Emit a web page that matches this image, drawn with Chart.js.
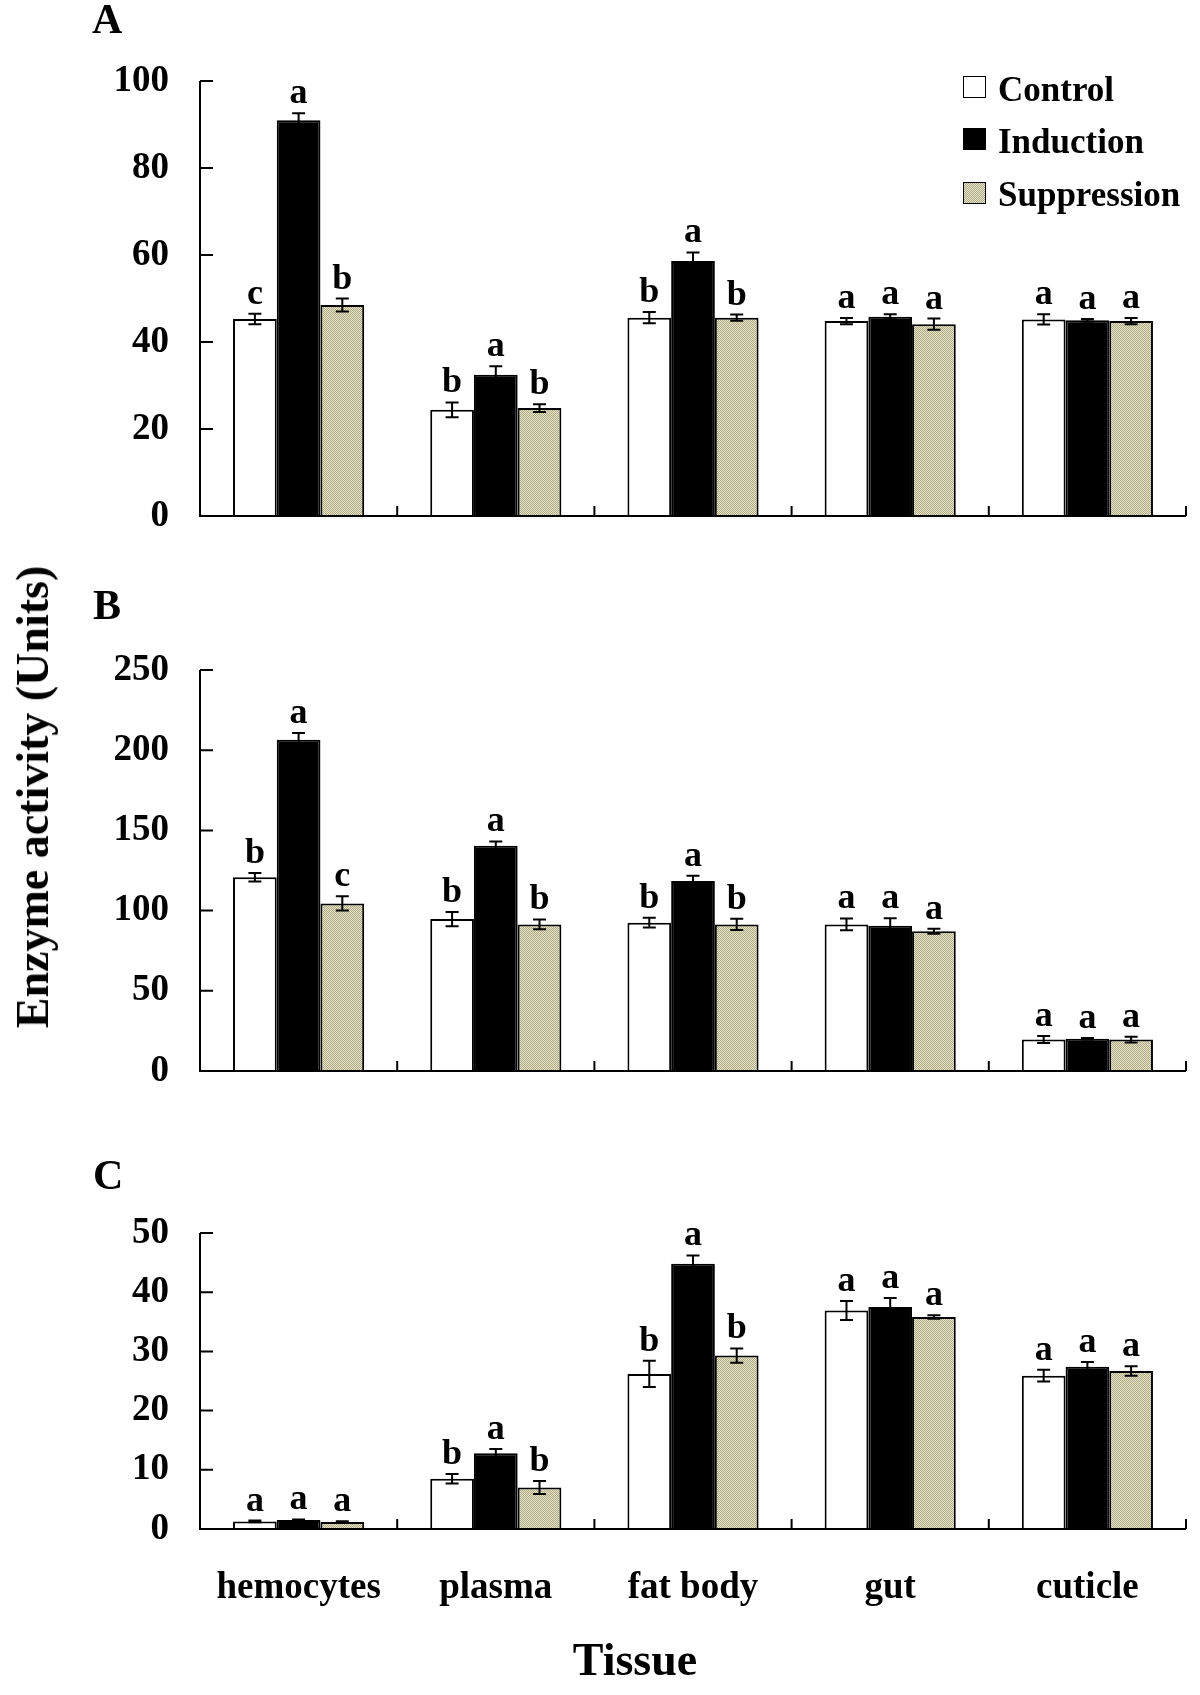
<!DOCTYPE html>
<html>
<head>
<meta charset="utf-8">
<script src="https://cdn.jsdelivr.net/npm/chart.js@4.4.1/dist/chart.umd.min.js"></script>
<style>
  body { margin: 0; background: #fff; }
  #page { position: relative; width: 1200px; height: 1695px; overflow: hidden; font-family: "Liberation Serif", "Times New Roman", serif; font-weight: bold; color: #000; }
  .pane { position: absolute; left: 0; width: 1200px; }
  .pane canvas { display: block; }
  .txt { position: absolute; line-height: 1; white-space: nowrap; }
  .key { position: absolute; width: 21px; height: 20px; border: 1.5px solid #000; }
</style>
</head>
<body>
<div id="page">
  <div class="pane" style="top:0;height:560px"><canvas id="chartA" width="1200" height="560"></canvas></div>
  <div class="pane" style="top:560px;height:560px"><canvas id="chartB" width="1200" height="560"></canvas></div>
  <div class="pane" style="top:1120px;height:575px"><canvas id="chartC" width="1200" height="575"></canvas></div>

  <div class="txt" style="left:92px;top:-2px;font-size:42px">A</div>
  <div class="txt" style="left:93px;top:584px;font-size:42px">B</div>
  <div class="txt" style="left:93px;top:1154px;font-size:42px">C</div>

  <div class="txt" style="left:33px;top:797px;font-size:46px;transform:translate(-50%,-50%) rotate(-90deg)">Enzyme activity (Units)</div>
  <div class="txt" style="left:635px;top:1637px;font-size:46px;transform:translateX(-50%)">Tissue</div>

  <div class="key" style="left:963px;top:76px;background:#fff"></div>
  <div class="txt" style="left:998px;top:72px;font-size:35px">Control</div>
  <div class="key" style="left:963px;top:128px;background:#000"></div>
  <div class="txt" style="left:998px;top:124px;font-size:35px">Induction</div>
  <div class="key" style="left:963px;top:182px;background:repeating-conic-gradient(#e6e3c8 0 25%, #aeaa84 0 50%) 0 0/2px 2px"></div>
  <div class="txt" style="left:998px;top:177px;font-size:35px">Suppression</div>
</div>

<script>
// Tissues and treatments
const tissues = ['hemocytes', 'plasma', 'fat body', 'gut', 'cuticle'];
const treatments = ['Control', 'Induction', 'Suppression'];

// Panel A
const controlA = [45.3, 24.4, 45.6, 44.8, 45.2];
const inductionA = [91.0, 32.5, 58.6, 45.8, 45.0];
const suppressionA = [48.5, 24.8, 45.6, 44.1, 44.8];
const controlErrA = [1.2, 1.7, 1.3, 0.7, 1.2];
const inductionErrA = [1.6, 1.9, 2.0, 0.6, 0.3];
const suppressionErrA = [1.5, 0.9, 0.7, 1.3, 0.7];
const lettersA = [['c', 'a', 'b'], ['b', 'a', 'b'], ['b', 'a', 'b'], ['a', 'a', 'a'], ['a', 'a', 'a']];
const ticksA = [0, 20, 40, 60, 80, 100];

// Panel B
const controlB = [120.8, 94.7, 92.5, 91.4, 19.6];
const inductionB = [206.5, 140.4, 118.5, 90.5, 20.1];
const suppressionB = [104.5, 91.4, 91.4, 87.1, 19.6];
const controlErrB = [2.6, 4.5, 3.0, 3.7, 2.2];
const inductionErrB = [4.2, 2.7, 3.3, 4.7, 0.5];
const suppressionErrB = [4.5, 3.1, 3.5, 1.6, 1.8];
const lettersB = [['b', 'a', 'c'], ['b', 'a', 'b'], ['b', 'a', 'b'], ['a', 'a', 'a'], ['a', 'a', 'a']];
const ticksB = [0, 50, 100, 150, 200, 250];

// Panel C
const controlC = [1.27, 8.5, 26.2, 36.9, 25.9];
const inductionC = [1.52, 12.8, 44.8, 37.5, 27.4];
const suppressionC = [1.2, 7.0, 29.3, 35.8, 26.7];
const controlErrC = [0.15, 0.8, 2.2, 1.6, 1.0];
const inductionErrC = [0.1, 0.7, 1.4, 1.5, 0.8];
const suppressionErrC = [0.1, 1.1, 1.2, 0.3, 0.8];
const lettersC = [['a', 'a', 'a'], ['b', 'a', 'b'], ['b', 'a', 'b'], ['a', 'a', 'a'], ['a', 'a', 'a']];
const ticksC = [0, 10, 20, 30, 40, 50];

Chart.defaults.font.family = '"Liberation Serif", "Times New Roman", serif';
Chart.defaults.font.weight = 'bold';
Chart.defaults.color = '#000';

// checkered khaki fill for the suppression bars
function stipple() {
    const c = document.createElement('canvas');
    c.width = 2; c.height = 2;
    const g = c.getContext('2d');
    g.fillStyle = '#e6e3c8';
    g.fillRect(0, 0, 2, 2);
    g.fillStyle = '#aeaa84';
    g.fillRect(0, 0, 1, 1);
    g.fillRect(1, 1, 1, 1);
    return g.createPattern(c, 'repeat');
}

// error bars, significance letters and inward tick marks
const extras = {
    id: 'extras',
    afterDatasetsDraw(chart, args, opts) {
        const ctx = chart.ctx;
        const x = chart.scales.x;
        const y = chart.scales.y;
        ctx.save();
        ctx.strokeStyle = '#000';
        ctx.fillStyle = '#000';
        ctx.lineWidth = 2;
        chart.data.datasets.forEach((ds, d) => {
            const meta = chart.getDatasetMeta(d);
            meta.data.forEach((bar, i) => {
                const v = ds.data[i];
                const e = ds.errors[i];
                const top = y.getPixelForValue(v + e);
                const bot = y.getPixelForValue(Math.max(v - e, 0));
                ctx.beginPath();
                ctx.moveTo(bar.x, top); ctx.lineTo(bar.x, bot);
                ctx.moveTo(bar.x - 6.5, top); ctx.lineTo(bar.x + 6.5, top);
                ctx.moveTo(bar.x - 6.5, bot); ctx.lineTo(bar.x + 6.5, bot);
                ctx.stroke();
                ctx.font = 'bold 36px "Liberation Serif", "Times New Roman", serif';
                ctx.textAlign = 'center';
                ctx.textBaseline = 'alphabetic';
                ctx.fillText(opts.letters[i][d], bar.x, top - 10);
            });
        });
        // axes redrawn on top of bars
        ctx.beginPath();
        ctx.moveTo(x.left, y.top); ctx.lineTo(x.left, y.bottom); ctx.lineTo(x.right, y.bottom);
        y.ticks.forEach(t => {
            const py = y.getPixelForValue(t.value);
            ctx.moveTo(x.left, py); ctx.lineTo(x.left + 13, py);
        });
        const n = x.getLabels().length;
        for (let i = 1; i <= n; i++) {
            const px = x.left + i * x.width / n;
            ctx.moveTo(px, y.bottom); ctx.lineTo(px, y.bottom - 10);
        }
        ctx.stroke();
        ctx.restore();
    }
};

function makePanel(id, series, errs, letters, ticks, top, below, showLabels) {
    const fills = ['#ffffff', '#000000', stipple()];
    new Chart(document.getElementById(id), {
        type: 'bar',
        data: {
            labels: tissues,
            datasets: treatments.map((name, k) => ({
                label: name,
                data: series[k],
                errors: errs[k],
                backgroundColor: fills[k],
                borderColor: '#000',
                borderWidth: 2,
                categoryPercentage: 0.665,
                barPercentage: 1.0
            }))
        },
        options: {
            responsive: false,
            animation: false,
            events: [],
            layout: { autoPadding: false, padding: { left: 0, right: 14, top: top, bottom: 0 } },
            plugins: {
                legend: { display: false },
                tooltip: { enabled: false },
                extras: { letters: letters }
            },
            scales: {
                x: {
                    grid: { display: false, drawTicks: false },
                    border: { display: false },
                    ticks: { display: showLabels, padding: 37, font: { size: 37 } },
                    afterFit(s) { s.height = below; }
                },
                y: {
                    min: 0,
                    max: ticks[ticks.length - 1],
                    afterBuildTicks(s) { s.ticks = ticks.map(v => ({ value: v })); },
                    grid: { display: false, drawTicks: false },
                    border: { display: false },
                    ticks: { padding: 31, font: { size: 37 } },
                    afterFit(s) { s.width = 200; s.paddingTop = 0; s.paddingBottom = 0; }
                }
            }
        },
        plugins: [extras]
    });
}

makePanel('chartA', [controlA, inductionA, suppressionA], [controlErrA, inductionErrA, suppressionErrA], lettersA, ticksA, 81, 44, false);
makePanel('chartB', [controlB, inductionB, suppressionB], [controlErrB, inductionErrB, suppressionErrB], lettersB, ticksB, 110, 49, false);
makePanel('chartC', [controlC, inductionC, suppressionC], [controlErrC, inductionErrC, suppressionErrC], lettersC, ticksC, 113, 166, true);
</script>
</body>
</html>
